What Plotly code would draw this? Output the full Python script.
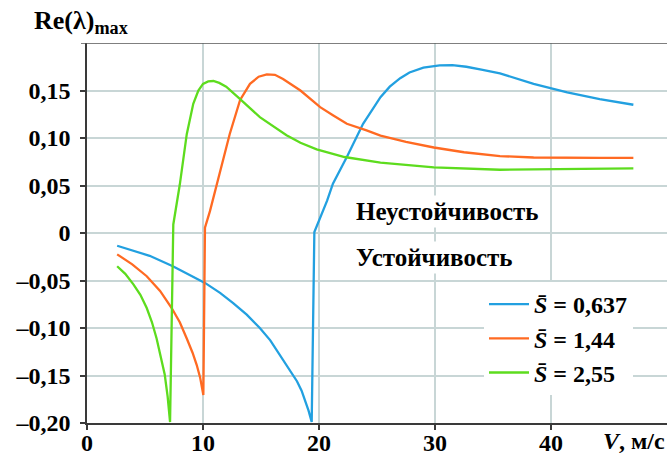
import plotly.graph_objects as go

# Data
v_s1 = [2.6, 5.4, 7.4, 8.88, 10.17, 11.47, 12.6, 13.77, 14.9, 15.8, 16.6, 17.5, 18.1, 18.5,
        18.8, 19.1, 19.37, 19.6, 20.7, 21.2, 22.4, 23.8, 25.3, 26.1, 27.0, 27.8, 29.0, 30.4,
        31.5, 32.7, 34.0, 35.6, 38.5, 41.4, 44.2, 47.1]
re_s1 = [-0.0134, -0.024, -0.035, -0.0444, -0.0525, -0.063, -0.0737, -0.086, -0.100, -0.113,
         -0.128, -0.144, -0.156, -0.166, -0.176, -0.187, -0.199, 0.001, 0.034, 0.052, 0.080,
         0.115, 0.143, 0.154, 0.163, 0.169, 0.174, 0.1765, 0.1768, 0.175, 0.172, 0.168, 0.157,
         0.148, 0.141, 0.135]

v_s2 = [2.6, 3.9, 5.15, 6.3, 7.3, 8.0, 8.6, 9.1, 9.46, 9.75, 10.03, 10.17, 10.6, 11.5, 12.3,
        13.2, 14.05, 14.8, 15.5, 16.2, 16.9, 18.4, 20.1, 21.2, 22.4, 24.1, 25.3, 27.5, 29.9,
        32.5, 35.6, 38.5, 41.4, 44.2, 47.1]
re_s2 = [-0.0225, -0.033, -0.0455, -0.061, -0.079, -0.094, -0.111, -0.126, -0.139, -0.152,
         -0.1705, 0.0056, 0.023, 0.066, 0.104, 0.140, 0.157, 0.1645, 0.167, 0.1665, 0.162, 0.150,
         0.1325, 0.124, 0.115, 0.108, 0.1025, 0.096, 0.090, 0.085, 0.081, 0.0795, 0.079, 0.079,
         0.079]

v_s3 = [2.6, 3.3, 4.0, 4.6, 5.15, 5.6, 6.0, 6.35, 6.7, 6.95, 7.16, 7.44, 8.0, 8.6, 9.16, 9.6,
        10.0, 10.45, 10.9, 11.4, 12.0, 13.2, 14.9, 17.2, 18.4, 19.8, 22.2, 25.3, 29.9, 35.6,
        41.4, 47.1]
re_s3 = [-0.035, -0.043, -0.054, -0.065, -0.079, -0.094, -0.111, -0.129, -0.149, -0.172, -0.199,
         0.009, 0.051, 0.104, 0.136, 0.150, 0.157, 0.1595, 0.160, 0.158, 0.154, 0.141, 0.122,
         0.103, 0.095, 0.088, 0.080, 0.074, 0.069, 0.0666, 0.067, 0.068]

series_names = ["<i>S\u0304</i> = 0,637", "<i>S\u0304</i> = 1,44", "<i>S\u0304</i> = 2,55"]
series_colors = ["#22a0e0", "#ff6a22", "#5ddc1e"]

x_ticks = [0, 10, 20, 30, 40]
x_labels = ["0", "10", "20", "30", "40"]
y_ticks = [-0.20, -0.15, -0.10, -0.05, 0, 0.05, 0.10, 0.15]
y_labels = ["\u20130,20", "\u20130,15", "\u20130,10", "\u20130,05", "0", "0,05", "0,10", "0,15"]

FONT = "Liberation Serif"
AX = "#3a3a3a"
GRID = "#c8d6d6"
PW = 580.0  # plot width in px
PH = 380.0  # plot height in px

fig = go.Figure()
for xs, ys, name, col in zip([v_s1, v_s2, v_s3], [re_s1, re_s2, re_s3],
                             series_names, series_colors):
    fig.add_trace(go.Scatter(x=xs, y=ys, mode="lines", name=name,
                             line=dict(color=col, width=2.3)))

tickfont = dict(family=FONT, size=24, weight="bold")
fig.update_layout(
    width=667, height=459,
    margin=dict(l=87, r=0, t=43, b=36, autoexpand=False),
    paper_bgcolor="white", plot_bgcolor="white",
    font=dict(family=FONT, size=22, color="black"),
    showlegend=True,
    legend=dict(x=(484 - 87) / PW, y=(423 - 282) / PH, xanchor="left", yanchor="top",
                bgcolor="white", borderwidth=0, itemwidth=40,
                font=dict(family=FONT, size=24, color="black", weight="bold")),
    xaxis=dict(range=[0, 50], tickvals=x_ticks, ticktext=x_labels, automargin=False,
               showgrid=True, gridcolor=GRID, gridwidth=1.5,
               showline=True, linecolor=AX, linewidth=1.5,
               ticks="outside", ticklen=5, tickcolor=AX, tickwidth=1.5,
               ticklabelstandoff=-8,
               tickfont=tickfont, zeroline=False),
    yaxis=dict(range=[-0.2, 0.2], tickvals=y_ticks, ticktext=y_labels, automargin=False,
               showgrid=True, gridcolor=GRID, gridwidth=1.5,
               showline=True, linecolor=AX, linewidth=1.5,
               ticks="outside", ticklen=5, tickcolor=AX, tickwidth=1.5,
               ticklabelstandoff=5,
               tickfont=tickfont, zeroline=False),
)

# top frame line (with its small tick at 0,20)
fig.add_shape(type="line", xref="paper", yref="y", x0=-6 / PW, x1=1, y0=0.2, y1=0.2,
              line=dict(color="#555555", width=1.5))

fig.add_annotation(text="Re(λ)<sub>max</sub>", xref="paper", yref="paper",
                   x=(32 - 87) / PW, y=(423 - 22) / PH, xanchor="left", yanchor="middle",
                   showarrow=False, font=dict(family=FONT, size=26, weight="bold"))
fig.add_annotation(text="<i>V</i>, м/с", xref="paper", yref="paper",
                   x=1.0, y=(423 - 441) / PH, xanchor="right", yanchor="middle", showarrow=False,
                   font=dict(family=FONT, size=24, weight="bold"))
fig.add_annotation(text="Неустойчивость", xref="paper", yref="paper",
                   x=(353 - 87) / PW, y=(423 - 211) / PH, xanchor="left", yanchor="middle",
                   showarrow=False, bgcolor="white", borderpad=2,
                   font=dict(family=FONT, size=25, weight="bold"))
fig.add_annotation(text="Устойчивость", xref="paper", yref="paper",
                   x=(353 - 87) / PW, y=(423 - 257) / PH, xanchor="left", yanchor="middle",
                   showarrow=False, bgcolor="white", borderpad=2,
                   font=dict(family=FONT, size=25, weight="bold"))

fig.write_html("out.html", config={"displayModeBar": False})

# remove the default page margin so the figure sits at the window's top-left corner
with open("out.html", "r", encoding="utf-8") as f:
    html = f.read()
html = html.replace("<head>", "<head><style>html,body{margin:0;padding:0;}</style>", 1)
with open("out.html", "w", encoding="utf-8") as f:
    f.write(html)
